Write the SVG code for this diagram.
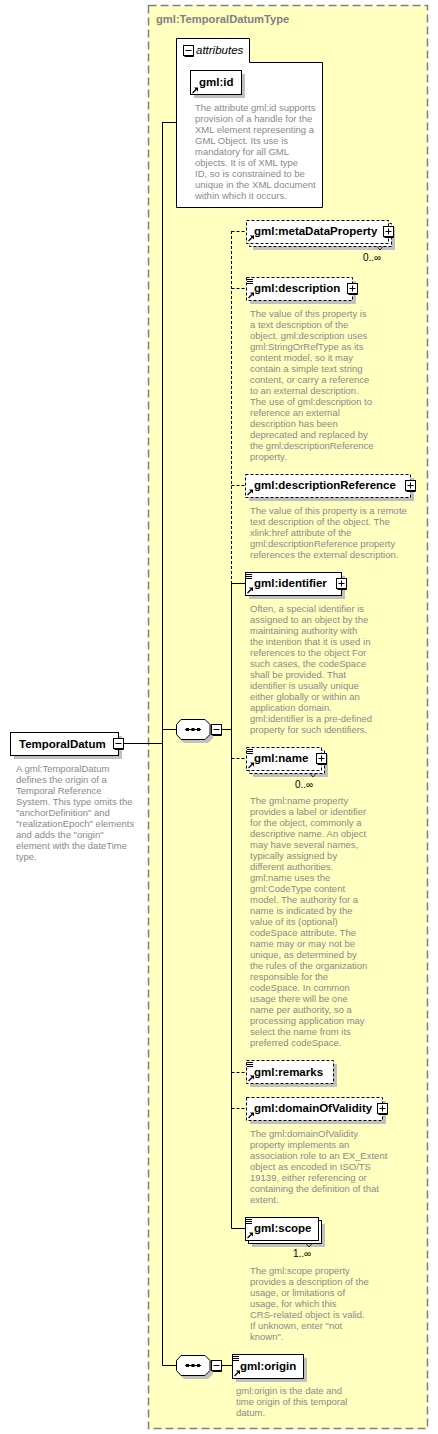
<svg xmlns="http://www.w3.org/2000/svg" width="438" height="1434" viewBox="0 0 438 1434">
<style>
.lbl{font:bold 11.5px "Liberation Sans",Arial,sans-serif;fill:#000}
.ttl{font:bold 11.2px "Liberation Sans",Arial,sans-serif;fill:#808080}
.att{font:italic 11.5px "Liberation Sans",Arial,sans-serif;fill:#000}
.doc{font:9.5px "Liberation Sans",Arial,sans-serif;fill:#8a8a8a}
.occ{font:10px "Liberation Sans",Arial,sans-serif;fill:#000}
.el{fill:#fff;stroke:#000;stroke-width:1}
.opt{stroke-dasharray:3,2}
.sh{fill:#c0c0c0}
.conn{stroke:#000;fill:none;stroke-width:1}
.dash{stroke-dasharray:3,2}
</style>
<defs>
<g id="plus"><rect x="0.5" y="0.5" width="10" height="10" fill="#fff" stroke="#000"/><path d="M10.5,1.5V11.5H1.5" fill="none" stroke="#000"/><path d="M2.5,5.5H8.5M5.5,2.5V8.5" stroke="#000"/></g>
<g id="minus"><rect x="0.5" y="0.5" width="10" height="10" fill="#fff" stroke="#000"/><path d="M10.5,1.5V11.5H1.5" fill="none" stroke="#000"/><path d="M2.5,5.5H8.5" stroke="#000"/></g>
<g id="ref"><path d="M0.5,6 L4,2.5" stroke="#000" stroke-width="1.3"/><polygon points="2,0.5 6,0.5 6,4.5" fill="#000"/></g>
<g id="lines"><path d="M3,2.5H9M3,4.5H9M3,6.5H9" stroke="#000" stroke-width="1"/></g>
<g id="seq"><polygon points="8,3 32,3 37,8 37,19 32,24 8,24 3,19 3,8" class="sh"/><polygon points="5,0.5 29,0.5 34,5.5 34,15.5 29,20.5 5,20.5 0.5,15.5 0.5,5.5" fill="#fff" stroke="#000"/><path d="M9,10.5H25" stroke="#000"/><rect x="10" y="9" width="3" height="3" fill="#000"/><rect x="15.5" y="9" width="3" height="3" fill="#000"/><rect x="21" y="9" width="3" height="3" fill="#000"/></g>
</defs>

<g id="type-box">
<rect x="148.5" y="5.5" width="279" height="1423" fill="#ffffc0" stroke="#808080" stroke-width="1.5" stroke-dasharray="8,4"/>
<text class="ttl" x="156" y="23">gml:TemporalDatumType</text>
</g>

<g id="connectors">
<path class="conn" d="M123,743.5H162.5M162.5,122V1365.5M162.5,122.5H176M162.5,729.5H176M162.5,1365.5H176M222,729.5H231.5M231.5,583V1228.5M222,1365.5H232"/>
<path class="conn dash" d="M231.5,231V583"/>
<path class="conn dash" d="M231.5,231.5H246M231.5,288.5H246M231.5,485.5H245M231.5,758.5H246M231.5,1072.5H246M231.5,1108.5H246"/>
<path class="conn" d="M231.5,583.5H245M231.5,1228.5H245"/>
</g>

<g id="n-TemporalDatum">
<rect class="sh" x="14" y="736" width="108" height="23"/>
<rect class="el" x="10.5" y="732.5" width="108" height="23"/>
<text class="lbl" x="19" y="748">TemporalDatum</text>
<use href="#minus" x="113" y="738"/>
<text class="doc"><tspan x="16" y="772">A gml:TemporalDatum</tspan><tspan x="16" y="783">defines the origin of a</tspan><tspan x="16" y="794">Temporal Reference</tspan><tspan x="16" y="805">System. This type omits the</tspan><tspan x="16" y="816">"anchorDefinition" and</tspan><tspan x="16" y="827">"realizationEpoch" elements</tspan><tspan x="16" y="838">and adds the "origin"</tspan><tspan x="16" y="849">element with the dateTime</tspan><tspan x="16" y="860">type.</tspan></text>
</g>

<g id="n-attributes">
<path d="M176.5,38.5H249.5V62.5H322.5V207.5H176.5Z" fill="#fff" stroke="#000"/>
<use href="#minus" x="183" y="45"/>
<text class="att" x="196" y="54">attributes</text>
</g>

<g id="n-id">
<rect class="sh" x="194" y="74" width="51" height="24"/>
<rect class="el" x="190.5" y="70.5" width="51" height="24"/>
<use href="#ref" x="192" y="87"/>
<text class="lbl" x="199" y="86">gml:id</text>
<text class="doc"><tspan x="195" y="111">The attribute gml:id supports</tspan><tspan x="195" y="122">provision of a handle for the</tspan><tspan x="195" y="133">XML element representing a</tspan><tspan x="195" y="144">GML Object. Its use is</tspan><tspan x="195" y="155">mandatory for all GML</tspan><tspan x="195" y="166">objects. It is of XML type</tspan><tspan x="195" y="177">ID, so is constrained to be</tspan><tspan x="195" y="188">unique in the XML document</tspan><tspan x="195" y="199">within which it occurs.</tspan></text>
</g>

<g id="n-seq1">
<use href="#seq" x="176" y="719"/>
<use href="#minus" x="211" y="724"/>
</g>

<g id="n-metaDataProperty">
<rect class="sh" x="253" y="227" width="142" height="23"/>
<rect class="el opt" x="249.5" y="223.5" width="142" height="23"/>
<rect class="el opt" x="246.5" y="220.5" width="142" height="23"/>
<path d="M377,246.5L380,250L383,246.5" fill="none" stroke="#000" stroke-width="0.8"/>
<use href="#ref" x="248" y="235"/>
<text class="lbl" x="254" y="235">gml:metaDataProperty</text>
<use href="#plus" x="383" y="226"/>
<text class="occ" x="363" y="261">0..∞</text>
</g>

<g id="n-description">
<rect class="sh" x="250" y="281" width="106" height="23"/>
<rect class="el opt" x="246.5" y="277.5" width="106" height="23"/>
<use href="#lines" x="244" y="277"/>
<use href="#ref" x="248" y="292"/>
<text class="lbl" x="254" y="292">gml:description</text>
<use href="#plus" x="347" y="283"/>
<text class="doc"><tspan x="250" y="317">The value of this property is</tspan><tspan x="250" y="328">a text description of the</tspan><tspan x="250" y="339">object. gml:description uses</tspan><tspan x="250" y="350">gml:StringOrRefType as its</tspan><tspan x="250" y="361">content model, so it may</tspan><tspan x="250" y="372">contain a simple text string</tspan><tspan x="250" y="383">content, or carry a reference</tspan><tspan x="250" y="394">to an external description.</tspan><tspan x="250" y="405">The use of gml:description to</tspan><tspan x="250" y="416">reference an external</tspan><tspan x="250" y="427">description has been</tspan><tspan x="250" y="438">deprecated and replaced by</tspan><tspan x="250" y="449">the gml:descriptionReference</tspan><tspan x="250" y="460">property.</tspan></text>
</g>

<g id="n-descriptionReference">
<rect class="sh" x="249" y="478" width="165" height="23"/>
<rect class="el opt" x="245.5" y="474.5" width="165" height="23"/>
<use href="#ref" x="247" y="489"/>
<text class="lbl" x="254" y="489">gml:descriptionReference</text>
<use href="#plus" x="405" y="480"/>
<text class="doc"><tspan x="250" y="514">The value of this property is a remote</tspan><tspan x="250" y="525">text description of the object. The</tspan><tspan x="250" y="536">xlink:href attribute of the</tspan><tspan x="250" y="547">gml:descriptionReference property</tspan><tspan x="250" y="558">references the external description.</tspan></text>
</g>

<g id="n-identifier">
<rect class="sh" x="249" y="576" width="96" height="23"/>
<rect class="el" x="245.5" y="572.5" width="96" height="23"/>
<use href="#lines" x="243" y="572"/>
<use href="#ref" x="247" y="587"/>
<text class="lbl" x="254" y="587">gml:identifier</text>
<use href="#plus" x="336" y="578"/>
<text class="doc"><tspan x="250" y="612">Often, a special identifier is</tspan><tspan x="250" y="623">assigned to an object by the</tspan><tspan x="250" y="634">maintaining authority with</tspan><tspan x="250" y="645">the intention that it is used in</tspan><tspan x="250" y="656">references to the object For</tspan><tspan x="250" y="667">such cases, the codeSpace</tspan><tspan x="250" y="678">shall be provided. That</tspan><tspan x="250" y="689">identifier is usually unique</tspan><tspan x="250" y="700">either globally or within an</tspan><tspan x="250" y="711">application domain.</tspan><tspan x="250" y="722">gml:identifier is a pre-defined</tspan><tspan x="250" y="733">property for such identifiers.</tspan></text>
</g>

<g id="n-name">
<rect class="sh" x="253" y="754" width="75" height="23"/>
<rect class="el opt" x="249.5" y="750.5" width="75" height="23"/>
<rect class="el opt" x="246.5" y="747.5" width="75" height="23"/>
<path d="M310,773.5L313,777L316,773.5" fill="none" stroke="#000" stroke-width="0.8"/>
<use href="#lines" x="244" y="747"/>
<use href="#ref" x="248" y="762"/>
<text class="lbl" x="254" y="762">gml:name</text>
<use href="#plus" x="316" y="753"/>
<text class="occ" x="295" y="788">0..∞</text>
<text class="doc"><tspan x="250" y="804">The gml:name property</tspan><tspan x="250" y="815">provides a label or identifier</tspan><tspan x="250" y="826">for the object, commonly a</tspan><tspan x="250" y="837">descriptive name. An object</tspan><tspan x="250" y="848">may have several names,</tspan><tspan x="250" y="859">typically assigned by</tspan><tspan x="250" y="870">different authorities.</tspan><tspan x="250" y="881">gml:name uses the</tspan><tspan x="250" y="892">gml:CodeType content</tspan><tspan x="250" y="903">model.  The authority for a</tspan><tspan x="250" y="914">name is indicated by the</tspan><tspan x="250" y="925">value of its (optional)</tspan><tspan x="250" y="936">codeSpace attribute.  The</tspan><tspan x="250" y="947">name may or may not be</tspan><tspan x="250" y="958">unique, as determined by</tspan><tspan x="250" y="969">the rules of the organization</tspan><tspan x="250" y="980">responsible for the</tspan><tspan x="250" y="991">codeSpace.  In common</tspan><tspan x="250" y="1002">usage there will be one</tspan><tspan x="250" y="1013">name per authority, so a</tspan><tspan x="250" y="1024">processing application may</tspan><tspan x="250" y="1035">select the name from its</tspan><tspan x="250" y="1046">preferred codeSpace.</tspan></text>
</g>

<g id="n-remarks">
<rect class="sh" x="250" y="1064" width="87" height="23"/>
<rect class="el opt" x="246.5" y="1060.5" width="87" height="23"/>
<use href="#lines" x="244" y="1060"/>
<use href="#ref" x="248" y="1075"/>
<text class="lbl" x="254" y="1076">gml:remarks</text>
</g>

<g id="n-domainOfValidity">
<rect class="sh" x="250" y="1101" width="136" height="23"/>
<rect class="el opt" x="246.5" y="1097.5" width="136" height="23"/>
<use href="#ref" x="248" y="1112"/>
<text class="lbl" x="254" y="1112">gml:domainOfValidity</text>
<use href="#plus" x="377" y="1103"/>
<text class="doc"><tspan x="250" y="1137">The gml:domainOfValidity</tspan><tspan x="250" y="1148">property implements an</tspan><tspan x="250" y="1159">association role to an EX_Extent</tspan><tspan x="250" y="1170">object as encoded in ISO/TS</tspan><tspan x="250" y="1181">19139, either referencing or</tspan><tspan x="250" y="1192">containing the definition of that</tspan><tspan x="250" y="1203">extent.</tspan></text>
</g>

<g id="n-scope">
<rect class="sh" x="252" y="1224" width="73" height="23"/>
<rect class="el" x="248.5" y="1220.5" width="73" height="23"/>
<rect class="el" x="245.5" y="1217.5" width="73" height="23"/>
<path d="M306,1243.5L309,1247L312,1243.5" fill="none" stroke="#000" stroke-width="0.8"/>
<use href="#lines" x="243" y="1217"/>
<use href="#ref" x="247" y="1232"/>
<text class="lbl" x="254" y="1232">gml:scope</text>
<text class="occ" x="293" y="1257">1..∞</text>
<text class="doc"><tspan x="250" y="1274">The gml:scope property</tspan><tspan x="250" y="1285">provides a description of the</tspan><tspan x="250" y="1296">usage, or limitations of</tspan><tspan x="250" y="1307">usage, for which this</tspan><tspan x="250" y="1318">CRS-related object is valid.</tspan><tspan x="250" y="1329">If unknown, enter "not</tspan><tspan x="250" y="1340">known".</tspan></text>
</g>

<g id="n-seq2">
<use href="#seq" x="176" y="1355"/>
<use href="#minus" x="211" y="1360"/>
</g>

<g id="n-origin">
<rect class="sh" x="236" y="1358" width="71" height="24"/>
<rect class="el" x="232.5" y="1354.5" width="71" height="24"/>
<use href="#lines" x="230" y="1354"/>
<use href="#ref" x="234" y="1370"/>
<text class="lbl" x="240" y="1370">gml:origin</text>
<text class="doc"><tspan x="236" y="1394">gml:origin is the date and</tspan><tspan x="236" y="1405">time origin of this temporal</tspan><tspan x="236" y="1416">datum.</tspan></text>
</g>
</svg>
